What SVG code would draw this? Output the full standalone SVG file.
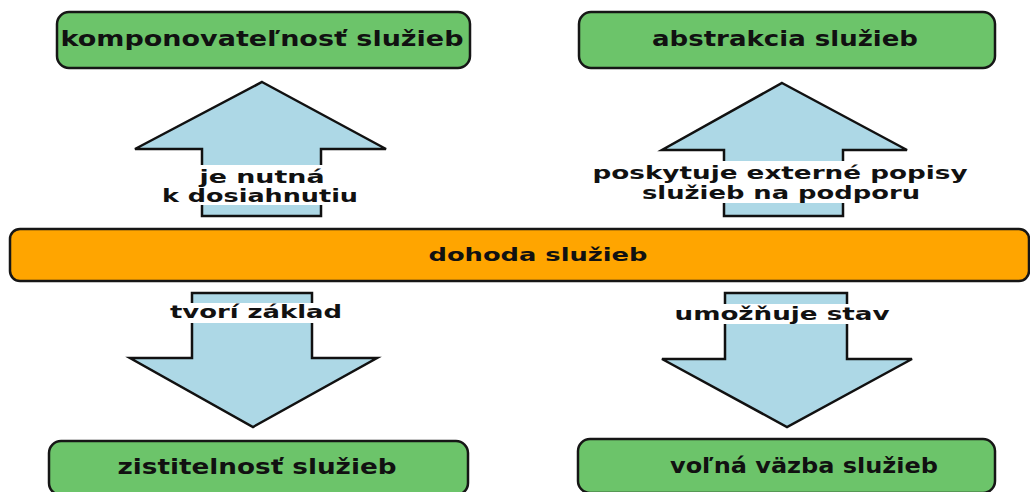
<svg xmlns="http://www.w3.org/2000/svg" width="1030" height="492" viewBox="0 0 1030 492">
<style>
.box{fill:#6cc46a;stroke:#161616;stroke-width:2.5}
.bar{fill:#ffa500;stroke:#161616;stroke-width:2.5}
.arrow{fill:#add8e6;stroke:#111;stroke-width:2.5;stroke-linejoin:miter}
.bg{fill:#fff}
.t{font-family:"DejaVu Sans","Liberation Sans",sans-serif;font-weight:bold;fill:#111;text-anchor:middle}
.bt{font-size:22px}
.lt{font-size:18px}
.ct{font-size:18px}
</style>
<rect width="1030" height="492" fill="#fff"/>
<g id="connectors">
  <g id="arrow-je-nutna">
    <polygon class="arrow" points="262,82 386,149 321,149 321,216 202,216 202,149 135,149"/>
    <rect class="bg" x="160" y="165" width="200" height="40"/>
    <text class="t lt" x="262" y="183" textLength="125" lengthAdjust="spacingAndGlyphs">je nutná</text>
    <text class="t lt" x="260" y="202" textLength="196" lengthAdjust="spacingAndGlyphs">k dosiahnutiu</text>
  </g>
  <g id="arrow-poskytuje">
    <polygon class="arrow" points="782,83 907,150 843,150 843,216 724,216 724,150 662,150"/>
    <rect class="bg" x="589" y="161" width="382" height="42"/>
    <text class="t lt" x="780" y="179" textLength="375" lengthAdjust="spacingAndGlyphs">poskytuje externé popisy</text>
    <text class="t lt" x="781" y="199" textLength="278" lengthAdjust="spacingAndGlyphs">služieb na podporu</text>
  </g>
  <g id="arrow-tvori">
    <polygon class="arrow" points="192,293 312,293 312,358 377,358 253,427 130,358 192,358"/>
    <rect class="bg" x="168" y="303" width="176" height="20"/>
    <text class="t lt" x="256" y="318" textLength="172" lengthAdjust="spacingAndGlyphs">tvorí základ</text>
  </g>
  <g id="arrow-umoznuje">
    <polygon class="arrow" points="725,293 847,293 847,359 912,359 787,427 662,359 725,359"/>
    <rect class="bg" x="673" y="304" width="219" height="20"/>
    <text class="t lt" x="782" y="320" textLength="215" lengthAdjust="spacingAndGlyphs">umožňuje stav</text>
  </g>
</g>
<g id="node-komponovatelnost">
  <rect class="box" x="57" y="12" width="413" height="56" rx="12"/>
  <text class="t bt" x="262" y="46" textLength="403" lengthAdjust="spacingAndGlyphs">komponovateľnosť služieb</text>
</g>
<g id="node-abstrakcia">
  <rect class="box" x="579" y="12" width="416" height="56" rx="12"/>
  <text class="t bt" x="785" y="46" textLength="266" lengthAdjust="spacingAndGlyphs">abstrakcia služieb</text>
</g>
<g id="node-dohoda">
  <rect class="bar" x="10" y="229" width="1019" height="52" rx="10"/>
  <text class="t ct" x="538" y="261" textLength="219" lengthAdjust="spacingAndGlyphs">dohoda služieb</text>
</g>
<g id="node-zistitelnost">
  <rect class="box" x="49" y="441" width="419" height="54" rx="12"/>
  <text class="t bt" x="257" y="474" textLength="279" lengthAdjust="spacingAndGlyphs">zistitelnosť služieb</text>
</g>
<g id="node-volna-vazba">
  <rect class="box" x="578" y="439" width="417" height="54" rx="12"/>
  <text class="t bt" x="804" y="473" textLength="268" lengthAdjust="spacingAndGlyphs">voľná väzba služieb</text>
</g>
</svg>
